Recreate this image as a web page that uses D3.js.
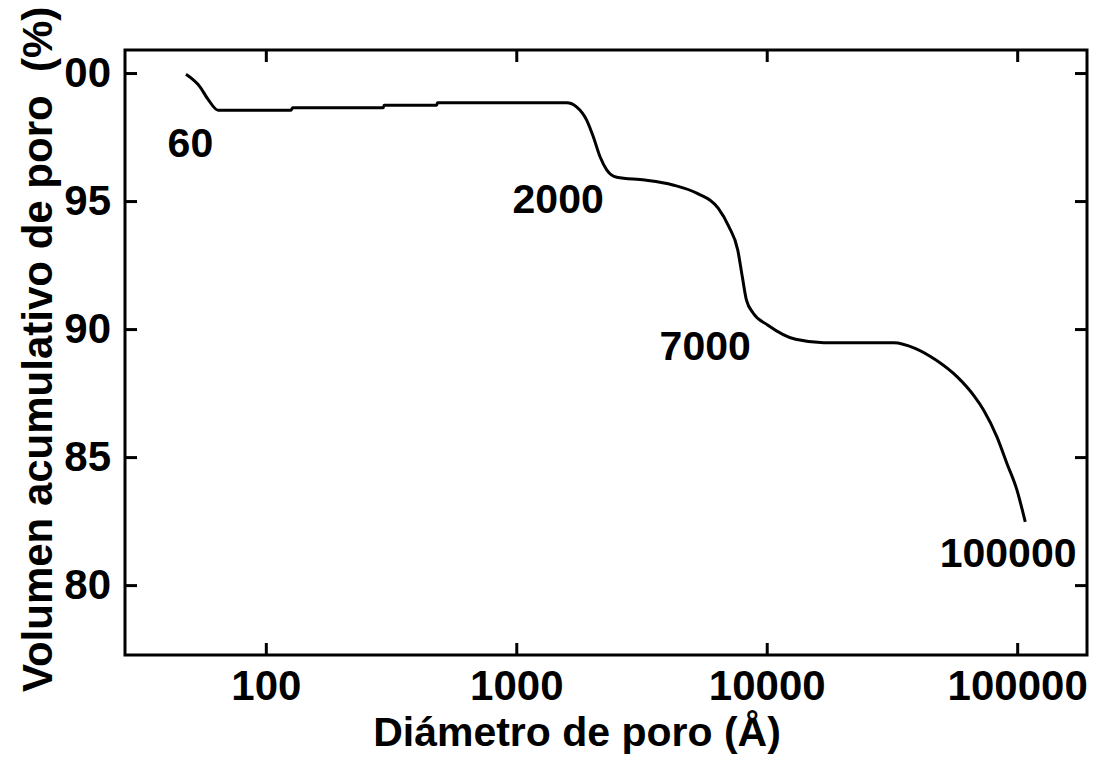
<!DOCTYPE html>
<html>
<head>
<meta charset="utf-8">
<script src="https://cdn.jsdelivr.net/npm/d3@7"></script>
<style>
  body { margin: 0; background: #fff; }
  svg text { font-family: "Liberation Sans", Arial, sans-serif; font-weight: bold; fill: #000; }
</style>
</head>
<body>
<div id="chart"></div>
<script>
// Data
const diameters = [48, 54.5, 59, 64.5, 126, 128, 294, 297, 481, 485, 1590, 1740, 1910, 2030, 2160, 2300, 2520,
  3260, 4220, 5280, 6410, 7060, 7660, 7990, 8300, 8850, 10080, 13040, 16900, 32200, 39100, 47400, 57500, 67600,
  73400, 83000, 91000, 99800, 107700]
const volumes = [99.95, 99.47, 98.95, 98.55, 98.55, 98.64, 98.64, 98.74, 98.74, 98.84, 98.84, 98.68, 98.16, 97.51,
  96.73, 96.21, 95.93, 95.82, 95.63, 95.30, 94.71, 94.00, 93.09, 92.04, 91.13, 90.61, 90.16, 89.60, 89.47, 89.47,
  89.25, 88.79, 88.14, 87.36, 86.84, 85.79, 84.75, 83.71, 82.47]

const xTicks = [100, 1000, 10000, 100000]
const yTicks = [100, 95, 90, 85, 80]
const yTickLabels = ["00", "95", "90", "85", "80"]

const noteLabels = ["60", "2000", "7000", "100000"]
const noteX = [50, 1470, 5680, 92000]
const noteY = [96.72, 94.53, 88.79, 80.7]

const dataset = diameters.map((d, i) => ({ d, v: volumes[i] }))
const xAccessor = d => d.d
const yAccessor = d => d.v

// Dimensions
let dimensions = {
  width: 1101,
  height: 761,
  left: 125,
  right: 14,
  top: 50,
  bottom: 106
}
dimensions.ctrWidth = dimensions.width - dimensions.left - dimensions.right
dimensions.ctrHeight = dimensions.height - dimensions.top - dimensions.bottom

const svg = d3.select('#chart')
  .append('svg')
  .attr('width', dimensions.width)
  .attr('height', dimensions.height)

const ctr = svg.append('g')
  .attr('transform', `translate(${dimensions.left}, ${dimensions.top})`)

// Scales
const xScale = d3.scaleLog()
  .domain([27.4, 190000])
  .range([0, dimensions.ctrWidth])

const yScale = d3.scaleLinear()
  .domain([77.27, 100.9])
  .range([dimensions.ctrHeight, 0])

// Line
const line = d3.line()
  .x(d => xScale(xAccessor(d)))
  .y(d => yScale(yAccessor(d)))
  .curve(d3.curveMonotoneX)

ctr.append('path')
  .datum(dataset)
  .attr('fill', 'none')
  .attr('stroke', '#000')
  .attr('stroke-width', 3)
  .attr('stroke-linejoin', 'round')
  .attr('d', line)

// Axes, ticks pointing inward on all four sides
const styleAxis = g => {
  g.select('.domain').remove()
  g.selectAll('.tick line').attr('stroke', '#000').attr('stroke-width', 3)
  g.selectAll('.tick text').style('font-size', '42px')
}

const xAxis = d3.axisBottom(xScale)
  .tickValues(xTicks)
  .tickFormat(d3.format('d'))
  .tickSizeInner(-12)
  .tickSizeOuter(0)
  .tickPadding(15)
ctr.append('g')
  .attr('transform', `translate(0, ${dimensions.ctrHeight})`)
  .call(xAxis)
  .call(styleAxis)

ctr.append('g')
  .call(d3.axisTop(xScale).tickValues(xTicks).tickFormat('').tickSizeInner(-12).tickSizeOuter(0))
  .call(styleAxis)

const yAxis = d3.axisLeft(yScale)
  .tickValues(yTicks)
  .tickFormat((d, i) => yTickLabels[i])
  .tickSizeInner(-12)
  .tickSizeOuter(0)
  .tickPadding(14)
ctr.append('g')
  .call(yAxis)
  .call(styleAxis)

ctr.append('g')
  .attr('transform', `translate(${dimensions.ctrWidth}, 0)`)
  .call(d3.axisRight(yScale).tickValues(yTicks).tickFormat('').tickSizeInner(-12).tickSizeOuter(0))
  .call(styleAxis)

// Frame
ctr.append('rect')
  .attr('width', dimensions.ctrWidth)
  .attr('height', dimensions.ctrHeight)
  .attr('fill', 'none')
  .attr('stroke', '#000')
  .attr('stroke-width', 3)

// Annotations
ctr.selectAll('.note')
  .data(noteLabels)
  .join('text')
  .attr('class', 'note')
  .attr('x', (d, i) => xScale(noteX[i]))
  .attr('y', (d, i) => yScale(noteY[i]))
  .attr('text-anchor', 'middle')
  .style('font-size', '41px')
  .text(d => d)

// Axis titles
svg.append('text')
  .attr('x', 577)
  .attr('y', 746)
  .attr('text-anchor', 'middle')
  .style('font-size', '41px')
  .text('Diámetro de poro (Å)')

svg.append('text')
  .attr('transform', 'translate(52, 692) rotate(-90)')
  .attr('text-anchor', 'start')
  .style('font-size', '42px')
  .style('white-space', 'pre')
  .text('Volumen acumulativo de poro  (%)')
</script>
</body>
</html>
